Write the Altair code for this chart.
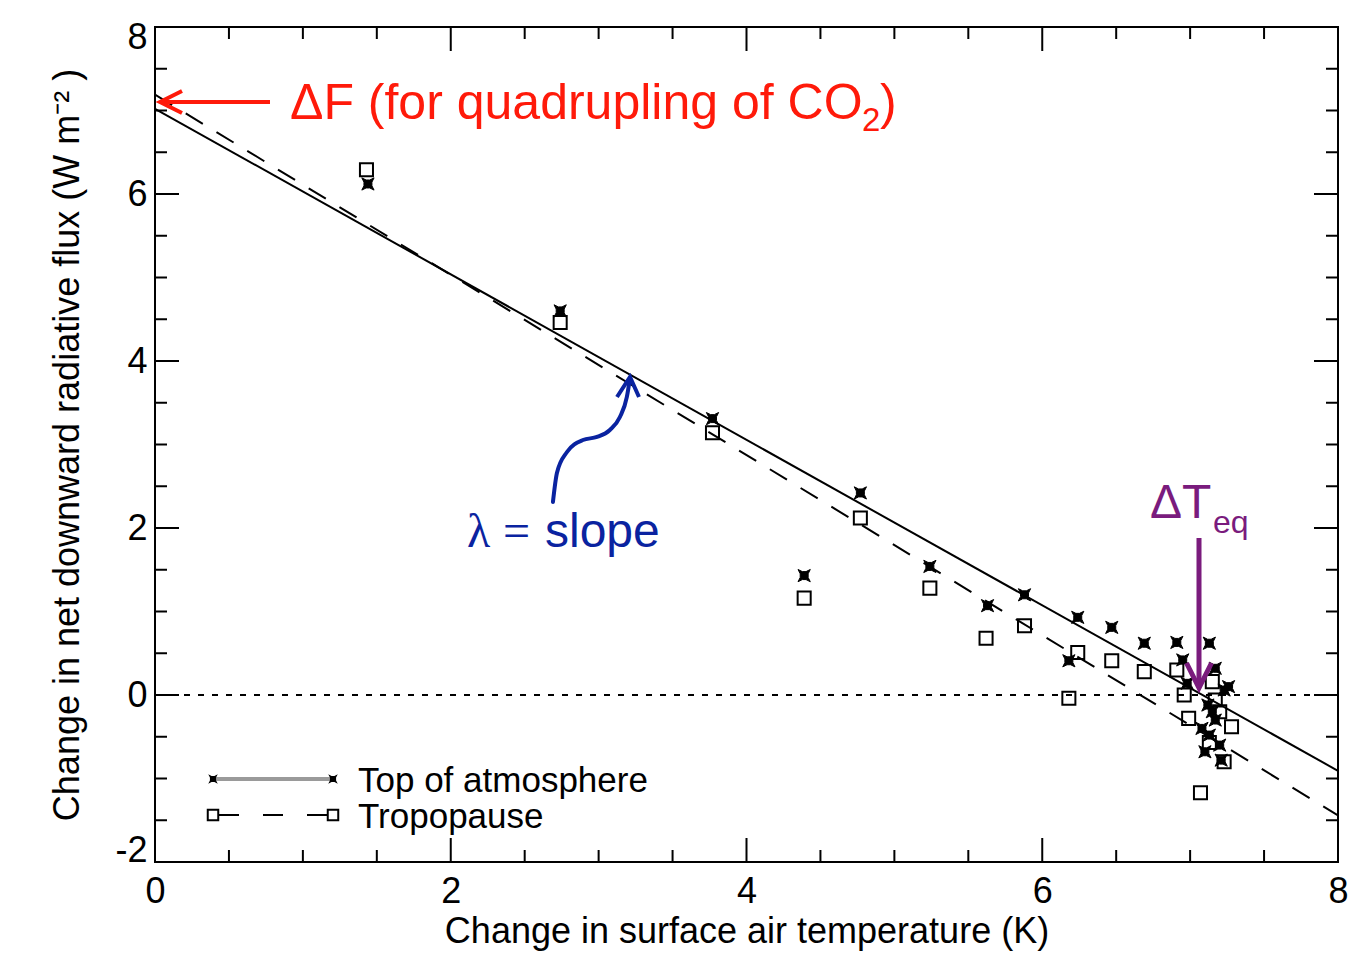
import altair as alt
import pandas as pd

# ---------------- data ----------------
toa_x = [1.44, 2.74, 3.77, 4.77, 4.39, 5.24, 5.63, 5.88, 6.18, 6.24, 6.47, 6.69, 6.91, 7.13,
         6.95, 6.98, 7.17, 7.23, 7.26, 7.12, 7.17, 7.13, 7.20, 7.10, 7.21, 7.15, 7.08]
toa_y = [6.12, 4.60, 3.31, 2.42, 1.43, 1.54, 1.07, 1.20, 0.41, 0.93, 0.81, 0.62, 0.63, 0.62,
         0.42, 0.14, 0.32, 0.06, 0.10, -0.12, -0.30, -0.48, -0.60, -0.68, -0.78, -0.20, -0.40]
trop_x = [1.43, 2.74, 3.77, 4.77, 4.39, 5.24, 5.62, 5.88, 6.18, 6.24, 6.47, 6.69, 6.91, 6.96,
          6.99, 7.07, 7.15, 7.20, 7.28, 7.13, 7.23, 7.17]
trop_y = [6.29, 4.46, 3.14, 2.12, 1.16, 1.28, 0.68, 0.83, -0.04, 0.51, 0.41, 0.28, 0.30, 0.00,
          -0.28, -1.17, 0.16, -0.20, -0.38, -0.57, -0.80, -0.06]

fit_names = ["Top of atmosphere", "Tropopause"]
fit_intercept = [7.02, 7.19]
fit_slope = [-0.991, -1.079]
fit_x_range = [0, 8]

x_major = [0, 2, 4, 6, 8]
x_minor = [0.5, 1, 1.5, 2.5, 3, 3.5, 4.5, 5, 5.5, 6.5, 7, 7.5]
y_major = [-2, 0, 2, 4, 6, 8]
y_minor = [-1.5, -1, -0.5, 0.5, 1, 1.5, 2.5, 3, 3.5, 4.5, 5, 5.5, 6.5, 7, 7.5]

# curved "lambda = slope" arrow path (data coordinates)
lam_x = [2.691, 2.718, 2.786, 2.894, 2.989, 3.076, 3.144, 3.191, 3.212]
lam_y = [2.311, 2.659, 2.910, 3.054, 3.090, 3.174, 3.329, 3.569, 3.796]

# ---------------- styling ----------------
W, H = 1183, 835
FONT = "Liberation Sans"
SERIF = "Liberation Serif"
RED = "#ff1a0a"
BLUE = "#0a23a0"
PURPLE = "#7a1b7d"

xs = alt.Scale(domain=[0, 8], nice=False, zero=False)
ys = alt.Scale(domain=[-2, 8], nice=False, zero=False)

xaxis = alt.Axis(title="Change in surface air temperature (K)", values=x_major,
                 labelExpr="'' + datum.value", grid=False, ticks=False, domain=False,
                 labelFont=FONT, labelFontSize=36, labelPadding=12, labelColor="black",
                 labelFlush=False,
                 titleFont=FONT, titleFontSize=36, titleFontWeight="normal", titleColor="black",
                 titleBaseline="alphabetic", titleY=80, titleX=W / 2, titleAlign="center")
yaxis = alt.Axis(title="Change in net downward radiative flux (W m⁻² )", values=y_major,
                 labelExpr="'' + datum.value", grid=False, ticks=False, domain=False,
                 labelFont=FONT, labelFontSize=36, labelPadding=8, labelFlush=True,
                 labelFlushOffset=7, labelColor="black",
                 titleFont=FONT, titleFontSize=36, titleFontWeight="normal", titleColor="black",
                 titleAngle=-90, titleBaseline="alphabetic", titleX=-77, titleY=H / 2,
                 titleAlign="center")

STAR = ("M-1,-1 L-0.3,-0.65 L0.3,-0.65 L1,-1 L0.65,-0.3 L0.65,0.3 L1,1 L0.3,0.65 "
        "L-0.3,0.65 L-1,1 L-0.65,0.3 L-0.65,-0.3 Z")
LEFT_CHEV = "M2,-1 L0,0 L2,1"
UP_CHEV = "M-1.3,2 L0,0 L0.9,2"
DOWN_CHEV = "M-1,-2 L0,0 L1,-2"

one = pd.DataFrame({"a": [0]})

def X(f):
    return alt.X(f + ":Q", scale=xs, axis=xaxis)

def Y(f):
    return alt.Y(f + ":Q", scale=ys, axis=yaxis)

layers = []

# zero line
layers.append(alt.Chart(pd.DataFrame({"y": [0]})).mark_rule(
    color="black", strokeWidth=2, strokeDash=[6, 8]).encode(y=Y("y")))

# regression lines
for name, b, m, dash in zip(fit_names, fit_intercept, fit_slope, [None, [20, 16]]):
    df = pd.DataFrame({"x": fit_x_range, "y": [b + m * v for v in fit_x_range]})
    kw = dict(color="black", strokeWidth=2, clip=True)
    if dash:
        kw["strokeDash"] = dash
    layers.append(alt.Chart(df).mark_line(**kw).encode(x=X("x"), y=Y("y")))

# scatter
layers.append(alt.Chart(pd.DataFrame({"x": trop_x, "y": trop_y})).mark_point(
    shape="square", filled=False, color="black", strokeWidth=2, size=170, opacity=1
).encode(x=X("x"), y=Y("y")))
layers.append(alt.Chart(pd.DataFrame({"x": toa_x, "y": toa_y})).mark_point(
    shape=STAR, filled=True, color="black", size=150, opacity=1, stroke="black", strokeWidth=1
).encode(x=X("x"), y=Y("y")))

# inward ticks on all four sides
for vals, ln in [(x_major, 24), (x_minor, 12)]:
    d = pd.DataFrame({"x": vals})
    layers.append(alt.Chart(d).mark_rule(color="black", strokeWidth=2).encode(
        x=X("x"), y=alt.value(H), y2=alt.value(H - ln)))
    layers.append(alt.Chart(d).mark_rule(color="black", strokeWidth=2).encode(
        x=X("x"), y=alt.value(0), y2=alt.value(ln)))
for vals, ln in [(y_major, 24), (y_minor, 12)]:
    d = pd.DataFrame({"y": vals})
    layers.append(alt.Chart(d).mark_rule(color="black", strokeWidth=2).encode(
        y=Y("y"), x=alt.value(0), x2=alt.value(ln)))
    layers.append(alt.Chart(d).mark_rule(color="black", strokeWidth=2).encode(
        y=Y("y"), x=alt.value(W), x2=alt.value(W - ln)))

def vtext(txt, x, y, size, color, font=FONT, baseline="alphabetic", align="left"):
    return alt.Chart(one).mark_text(text=txt, font=font, fontSize=size, color=color,
                                    align=align, baseline=baseline).encode(
        x=alt.value(x), y=alt.value(y))

def vrule(x, y, x2=None, y2=None, **kw):
    enc = dict(x=alt.value(x), y=alt.value(y))
    if x2 is not None:
        enc["x2"] = alt.value(x2)
    if y2 is not None:
        enc["y2"] = alt.value(y2)
    return alt.Chart(one).mark_rule(**kw).encode(**enc)

def vpoint(x, y, **kw):
    return alt.Chart(one).mark_point(opacity=1, **kw).encode(x=alt.value(x), y=alt.value(y))

# legend
layers.append(vrule(58, 752, x2=178, color="#9a9a9a", strokeWidth=4))
layers.append(vpoint(58, 752, shape=STAR, filled=True, color="black", size=90))
layers.append(vpoint(178, 752, shape=STAR, filled=True, color="black", size=90))
layers.append(vtext("Top of atmosphere", 203, 754, 35, "black", baseline="middle"))
layers.append(vrule(64, 788, x2=172, color="black", strokeWidth=2, strokeDash=[20, 24]))
layers.append(vpoint(58, 788, shape="square", filled=False, color="black", size=110, strokeWidth=2))
layers.append(vpoint(178, 788, shape="square", filled=False, color="black", size=110, strokeWidth=2))
layers.append(vtext("Tropopause", 203, 790, 35, "black", baseline="middle"))

# ΔF annotation
layers.append(vrule(115, 75, x2=8, color=RED, strokeWidth=4))
layers.append(vpoint(5, 75, shape=LEFT_CHEV, filled=False, color=RED, size=484, strokeWidth=4))
layers.append(vtext("ΔF (for quadrupling of CO", 135, 92, 50, RED))
layers.append(vtext("2", 707, 104, 33, RED))
layers.append(vtext(")", 725, 92, 50, RED))

# λ = slope annotation
lam_df = pd.DataFrame({"x": lam_x, "y": lam_y, "i": list(range(len(lam_x)))})
layers.append(alt.Chart(lam_df).mark_line(color=BLUE, strokeWidth=4, interpolate="monotone",
                                          strokeCap="round").encode(
    x=X("x"), y=Y("y"), order="i:Q"))
layers.append(vpoint(475, 350, shape=UP_CHEV, filled=False, color=BLUE, size=400, strokeWidth=4))
layers.append(vtext("λ", 312, 520, 48, BLUE, font=SERIF))
layers.append(vtext("=", 348, 520, 48, BLUE, font=SERIF))
layers.append(vtext("slope", 390, 520, 48, BLUE))

# ΔTeq annotation
layers.append(vrule(1044, 511, y2=657, color=PURPLE, strokeWidth=5))
layers.append(vpoint(1044, 661, shape=DOWN_CHEV, filled=False, color=PURPLE, size=625, strokeWidth=5))
layers.append(vtext("ΔT", 995, 491, 48, PURPLE))
layers.append(vtext("eq", 1058, 506, 32, PURPLE))

chart = alt.layer(*layers).properties(
    width=W, height=H,
    padding={"left": 147, "top": 19, "right": 13, "bottom": 92},
    autosize=alt.AutoSizeParams(type="none"),
    background="white",
).configure_view(stroke="black", strokeWidth=2)

chart.save("out.html", embed_options={"renderer": "svg", "actions": False})
